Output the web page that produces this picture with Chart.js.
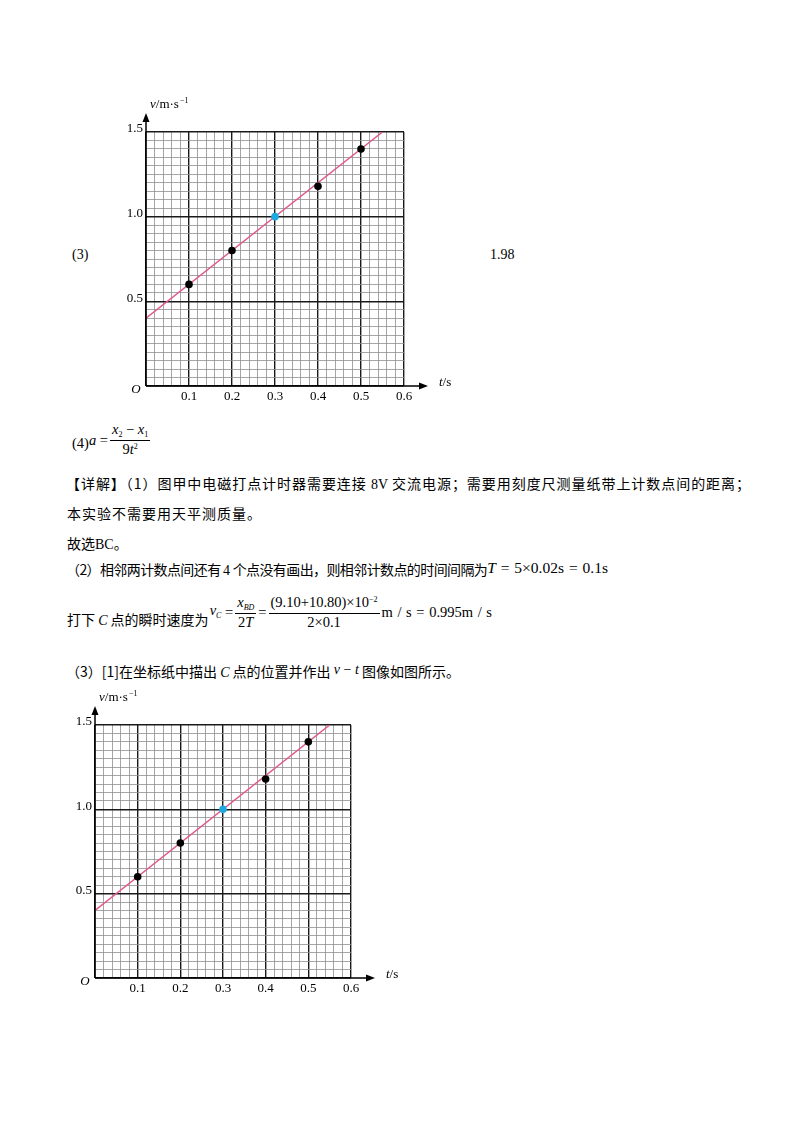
<!DOCTYPE html>
<html lang="zh-CN">
<head>
<meta charset="utf-8">
<script src="https://cdn.jsdelivr.net/npm/chart.js@4.4.0/dist/chart.umd.min.js"></script>
<style>
  body { margin: 0; background: #fff; }
  #page { position: relative; width: 800px; height: 1132px; overflow: hidden; color: #000; }
  .t { position: absolute; white-space: nowrap; font-family: "Noto Sans CJK SC", sans-serif; font-size: 14px; line-height: 20px; }
  .cjk { font-family: "Noto Sans CJK SC", sans-serif; font-size: 14px; }
  .m { font-family: "Liberation Serif", serif; font-size: 14px; letter-spacing: 0; }
  .box { position: absolute; display: flex; align-items: center; white-space: nowrap; font-family: "Liberation Serif", serif; font-size: 13px; }
  .frac { display: inline-flex; flex-direction: column; align-items: center; margin: 0 2px; }
  .frac .n { border-bottom: 1px solid #000; padding: 0 2px; line-height: 16px; }
  .frac .d { line-height: 16px; }
  .sb { font-size: 8px; font-style: italic; position: relative; top: 3px; }
  .sp { font-size: 8px; position: relative; top: -5px; }
  .chart { position: absolute; }
</style>
</head>
<body>
<div id="page">
  <div class="chart" style="left:100px;top:95px;width:380px;height:320px"><canvas id="chartTop" width="380" height="320"></canvas></div>
  <div class="t m" style="left:72px;top:245px">(3)</div>
  <div class="t m" style="left:490px;top:245px">1.98</div>

  <div class="box" style="left:72px;top:421px;font-size:14.5px">
    <span style="position:relative;top:3px">(4)</span><i>a</i>&nbsp;=
    <span class="frac"><span class="n"><i>x</i><span class="sb" style="font-style:normal">2</span> − <i>x</i><span class="sb" style="font-style:normal">1</span></span><span class="d">9<i>t</i><span class="sp">2</span></span></span>
  </div>

  <div class="t" style="left:66px;top:473px;width:684px;white-space:normal;text-align:justify;text-align-last:justify">【详解】（1）图甲中电磁打点计时器需要连接 <span class="m">8V</span> 交流电源；需要用刻度尺测量纸带上计数点间的距离；</div>
  <div class="t" style="left:67px;top:503px;letter-spacing:1px">本实验不需要用天平测质量。</div>
  <div class="t" style="left:67px;top:533px">故选<span class="m">BC</span>。</div>
  <div class="t" style="left:66px;top:559px;letter-spacing:-0.6px">（2）相邻两计数点间还有 <span class="m">4</span> 个点没有画出，则相邻计数点的时间间隔为<span class="m" style="position:relative;top:-2px;font-size:15.5px;word-spacing:1px"><i>T</i> = 5×0.02s = 0.1s</span></div>
  <div class="box" style="left:67px;top:594px;font-size:14.5px">
    <span class="cjk" style="position:relative;top:7px">打下 <i class="m">C</i> 点的瞬时速度为</span>
    <span style="position:relative;top:-2px;margin-left:1px"><i>v</i><span class="sb">C</span></span>&nbsp;=
    <span class="frac"><span class="n"><i>x</i><span class="sb">BD</span></span><span class="d">2<i>T</i></span></span>=
    <span class="frac"><span class="n">(9.10+10.80)×10<span class="sp">−2</span></span><span class="d">2×0.1</span></span>
    <span style="word-spacing:1px">m / s = 0.995m / s</span>
  </div>
  <div class="t" style="left:66px;top:661px">（3）[1]在坐标纸中描出 <i class="m">C</i> 点的位置并作出 <span class="m" style="position:relative;top:-3px"><i>v</i> − <i>t</i></span> 图像如图所示。</div>

  <div class="chart" style="left:50px;top:690px;width:370px;height:310px"><canvas id="chartBottom" width="370" height="310"></canvas></div>
</div>

<script>
// measured points (t in s, v in m/s); the third one is point C
const times = [0.1, 0.2, 0.3, 0.4, 0.5];
const velocities = [0.60, 0.80, 1.00, 1.18, 1.40];
const pointColors = ['#000', '#000', '#1fa9e1', '#000', '#000'];

// fitted v-t line
const fitTimes = [0, 0.55];
const fitVelocities = [0.40, 1.50];

const xTickLabels = ['0.1', '0.2', '0.3', '0.4', '0.5', '0.6'];
const yTickLabels = ['0.5', '1.0', '1.5'];

const serif = '"Liberation Serif", serif';

// axes with arrows, tick labels and axis names
const axisDecor = {
  id: 'axisDecor',
  afterDraw(chart) {
    const { ctx, chartArea: a, scales: { x, y } } = chart;
    ctx.save();
    ctx.strokeStyle = '#000';
    ctx.fillStyle = '#000';
    ctx.lineWidth = 1.5;

    ctx.beginPath();
    ctx.moveTo(a.left, a.bottom);
    ctx.lineTo(a.left, a.top - 13);
    ctx.moveTo(a.left, a.bottom);
    ctx.lineTo(a.right + 18, a.bottom);
    ctx.stroke();

    ctx.beginPath();
    ctx.moveTo(a.left, a.top - 19);
    ctx.lineTo(a.left - 3.5, a.top - 10);
    ctx.lineTo(a.left + 3.5, a.top - 10);
    ctx.closePath();
    ctx.fill();

    ctx.beginPath();
    ctx.moveTo(a.right + 24, a.bottom);
    ctx.lineTo(a.right + 15, a.bottom - 3.5);
    ctx.lineTo(a.right + 15, a.bottom + 3.5);
    ctx.closePath();
    ctx.fill();

    ctx.font = '13px ' + serif;
    ctx.textBaseline = 'middle';
    ctx.textAlign = 'center';
    xTickLabels.forEach(l => ctx.fillText(l, x.getPixelForValue(parseFloat(l)), a.bottom + 11));
    ctx.textAlign = 'right';
    yTickLabels.forEach(l => ctx.fillText(l, a.left - 3, y.getPixelForValue(parseFloat(l)) - 3));

    ctx.textAlign = 'center';
    ctx.font = 'italic 13px ' + serif;
    ctx.fillText('O', a.left - 10, a.bottom + 4);

    // v/m·s^-1
    ctx.textAlign = 'left';
    let px = a.left + 4;
    const py = a.top - 27;
    ctx.font = 'italic 13px ' + serif;
    ctx.fillText('v', px, py);
    px += ctx.measureText('v').width;
    ctx.font = '13px ' + serif;
    ctx.fillText('/m\u00b7s', px, py);
    px += ctx.measureText('/m\u00b7s').width + 1;
    ctx.font = '8px ' + serif;
    ctx.fillText('\u22121', px, py - 4);

    // t/s
    px = a.right + 35;
    const ty = a.bottom - 3;
    ctx.font = 'italic 13px ' + serif;
    ctx.fillText('t', px, ty);
    px += ctx.measureText('t').width;
    ctx.font = '13px ' + serif;
    ctx.fillText('/s', px, ty);
    ctx.restore();
  }
};

function gridLine(every) {
  return {
    drawTicks: false,
    color: c => (c.index % every === 0 ? '#1a1a1a' : '#8f8f8f'),
    lineWidth: c => (c.index % every === 0 ? 1.4 : 0.8)
  };
}

function makeChart(id, padding) {
  new Chart(document.getElementById(id), {
    type: 'scatter',
    data: {
      datasets: [
        {
          label: 'points',
          data: times.map((t, i) => ({ x: t, y: velocities[i] })),
          pointRadius: 3.8,
          pointBackgroundColor: pointColors,
          pointBorderWidth: 0,
          order: 1
        },
        {
          label: 'fit',
          data: fitTimes.map((t, i) => ({ x: t, y: fitVelocities[i] })),
          showLine: true,
          borderColor: '#e05a8e',
          borderWidth: 1.5,
          pointRadius: 0,
          order: 2
        }
      ]
    },
    options: {
      responsive: false,
      animation: false,
      layout: { padding, autoPadding: false },
      plugins: { legend: { display: false }, tooltip: { enabled: false } },
      scales: {
        x: {
          type: 'linear', min: 0, max: 0.6,
          ticks: { display: false, stepSize: 0.02 },
          grid: gridLine(5),
          border: { display: false }
        },
        y: {
          type: 'linear', min: 0, max: 1.5,
          ticks: { display: false, stepSize: 0.05 },
          grid: gridLine(10),
          border: { display: false }
        }
      }
    },
    plugins: [axisDecor]
  });
}

makeChart('chartTop', { left: 46, top: 37, right: 76, bottom: 29 });
makeChart('chartBottom', { left: 45, top: 35, right: 69, bottom: 22 });
</script>
</body>
</html>
